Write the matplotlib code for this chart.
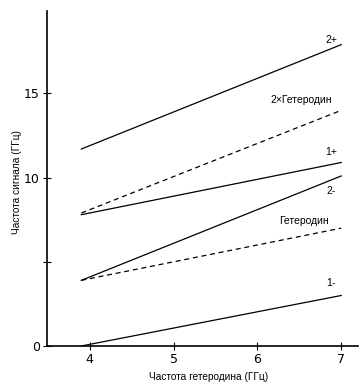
import matplotlib
matplotlib.use("Agg")
import matplotlib.pyplot as plt

# ----------------------
# Data
# ----------------------
lo_start, lo_end = 3.9, 7.0   # heterodyne frequency range, GHz

names = ["2+", "2×Гетеродин", "1+", "2-", "Гетеродин", "1-"]
y_start = [11.7, 7.9, 7.8, 3.9, 3.9, 0.0]
y_end = [17.9, 14.0, 10.9, 10.1, 7.0, 3.0]
dashed = [False, True, False, False, True, False]

label_x = [6.88, 6.52, 6.88, 6.88, 6.55, 6.88]
label_y = [18.2, 14.6, 11.5, 9.2, 7.4, 3.75]

xticks = [4, 5, 6, 7]
yticks = [0, 5, 10, 15]
ytick_labels = ["0", "", "10", "15"]

narrow = ["Liberation Sans Narrow", "DejaVu Sans"]
regular = ["Liberation Sans", "DejaVu Sans"]

# ----------------------
# Plot
# ----------------------
fig = plt.figure(figsize=(3.64, 3.91), dpi=100)
ax = fig.add_axes([0.129, 0.1151, 0.8545, 0.8568])

for ys, ye, d in zip(y_start, y_end, dashed):
    ax.plot([lo_start, lo_end], [ys, ye], color="black", lw=0.9,
            ls=(0, (4, 3)) if d else "-")

for name, lx, ly in zip(names, label_x, label_y):
    ax.text(lx, ly, name, fontsize=7.5, ha="center", va="center",
            family=regular)

ax.set_xlim(3.49, 7.2)
ax.set_ylim(0, 19.9)
ax.set_xticks(xticks)
ax.set_yticks(yticks)
ax.set_yticklabels(ytick_labels)

for side in ("top", "right"):
    ax.spines[side].set_visible(False)
for side in ("left", "bottom"):
    ax.spines[side].set_linewidth(1.2)

ax.tick_params(direction="inout", length=6, width=0.8, labelsize=9, pad=2)
for lbl in ax.get_xticklabels() + ax.get_yticklabels():
    lbl.set_family(narrow)

ax.set_xlabel("Частота гетеродина (ГГц)", fontsize=7.3, family=regular)
ax.set_ylabel("Частота сигнала (ГГц)", fontsize=7.3, family=regular)
ax.xaxis.set_label_coords(0.52, -0.078)
ax.yaxis.set_label_coords(-0.08, 0.49)

fig.savefig("out.png", dpi=100)
